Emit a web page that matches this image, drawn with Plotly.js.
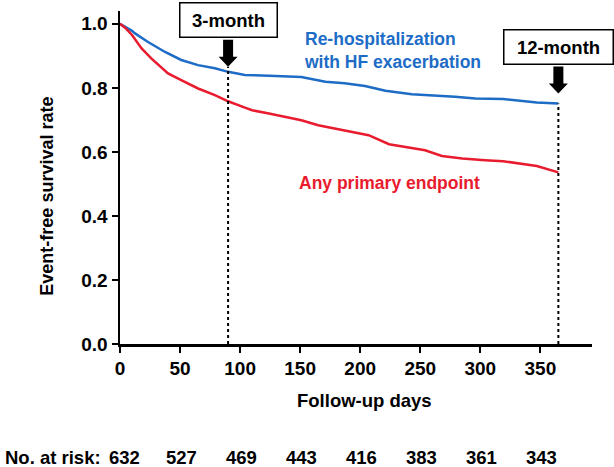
<!DOCTYPE html>
<html>
<head>
<meta charset="utf-8">
<script src="https://cdn.plot.ly/plotly-3.0.1.min.js"></script>
<style>html,body{margin:0;padding:0;background:#fff;}#chart{width:614px;height:467px;}</style>
</head>
<body>
<div id="chart"></div>
<script>
// ---- Data ----
const rehospDays = [0, 5, 10, 12.5, 23, 37.5, 51, 65, 79, 90, 104, 124, 151, 171, 187, 204, 221, 243, 262, 279, 296, 319, 347, 365];
const rehospSurv = [1.0, 0.99, 0.978, 0.970, 0.944, 0.912, 0.887, 0.871, 0.861, 0.850, 0.840, 0.838, 0.834, 0.819, 0.814, 0.806, 0.791, 0.780, 0.777, 0.772, 0.767, 0.765, 0.754, 0.751];
const anyDays = [0, 5, 10, 18, 26, 40, 51, 65, 79, 90, 104, 110, 124, 137, 151, 165, 179, 193, 207, 224, 240, 254, 268, 285, 304, 319, 347, 365];
const anySurv = [1.0, 0.985, 0.965, 0.923, 0.892, 0.845, 0.824, 0.798, 0.777, 0.758, 0.738, 0.730, 0.720, 0.709, 0.699, 0.683, 0.673, 0.663, 0.652, 0.624, 0.614, 0.605, 0.587, 0.579, 0.574, 0.571, 0.556, 0.536];
const milestoneDays = [90, 365];
const milestoneLabels = ['3-month', '12-month'];
const riskDays = [0, 50, 100, 150, 200, 250, 300, 350];
const riskCounts = [632, 527, 469, 443, 416, 383, 361, 343];
const xTicks = [0, 50, 100, 150, 200, 250, 300, 350];
const yTicks = [0, 0.2, 0.4, 0.6, 0.8, 1.0];

// ---- Style ----
const BLUE = '#1d6cc6';
const RED = '#e91b2e';
const FONT = 'Liberation Sans, Arial, sans-serif';
const W = 614, H = 467;
const M = {l: 120, r: 22, t: 11, b: 123};
const yRange = [0, 1.04];
const pxPerUnit = (H - M.t - M.b) / (yRange[1] - yRange[0]);

function valueAt(days, vals, d) {
  for (let i = 1; i < days.length; i++) {
    if (d <= days[i]) {
      const f = (d - days[i - 1]) / (days[i] - days[i - 1]);
      return vals[i - 1] + f * (vals[i] - vals[i - 1]);
    }
  }
  return vals[vals.length - 1];
}

const traces = [
  {x: rehospDays, y: rehospSurv, type: 'scatter', mode: 'lines', line: {color: BLUE, width: 2.5}, hoverinfo: 'skip'},
  {x: anyDays, y: anySurv, type: 'scatter', mode: 'lines', line: {color: RED, width: 2.5}, hoverinfo: 'skip'}
];

const tipOffsets = [5, 10];   // px gap between curve and arrow tip
const arrowLen = 27;
const shapes = [];
const annotations = [];

milestoneDays.forEach((d, i) => {
  const v = valueAt(rehospDays, rehospSurv, d);
  const off = tipOffsets[i];
  const top = i === 0 ? v + off / pxPerUnit : v;
  shapes.push({type: 'line', xref: 'x', yref: 'y', x0: d, x1: d, y0: 0, y1: top,
    line: {color: 'black', width: 2, dash: 'dot'}});
  const h = off + 10, t = off + arrowLen;
  shapes.push({type: 'path', xref: 'x', yref: 'y', xsizemode: 'pixel', ysizemode: 'pixel',
    xanchor: d, yanchor: v,
    path: `M -5,${t} L 5,${t} L 5,${h} L 9.5,${h} L 0,${off} L -9.5,${h} L -5,${h} Z`,
    fillcolor: 'black', line: {color: 'black', width: 0}});
  annotations.push({xref: 'x', yref: 'y', x: d, y: v, xanchor: 'center', yanchor: 'bottom',
    yshift: t + 2, text: '<b>' + milestoneLabels[i] + '</b>', showarrow: false,
    font: {family: FONT, size: 18.5, color: 'black'},
    bordercolor: 'black', borderwidth: 1.5, borderpad: 1, bgcolor: 'white',
    width: i === 0 ? 94 : 106, height: 31});
});

riskDays.forEach((d, i) => {
  annotations.push({xref: 'x', yref: 'paper', x: d, y: -0.340, xanchor: 'center', yanchor: 'middle',
    xshift: i === 0 ? 4 : 1,
    text: '<b>' + riskCounts[i] + '</b>', showarrow: false, font: {family: FONT, size: 18.5, color: 'black'}});
});
annotations.push({xref: 'paper', yref: 'paper', x: -0.036, y: -0.340, xanchor: 'right', yanchor: 'middle',
  text: '<b>No. at risk:</b>', showarrow: false, font: {family: FONT, size: 18.5, color: 'black'}});

annotations.push({xref: 'paper', yref: 'paper', x: 0.518, y: -0.169, xanchor: 'center', yanchor: 'middle',
  text: '<b>Follow-up days</b>', showarrow: false, font: {family: FONT, size: 18.5, color: 'black'}});
annotations.push({xref: 'paper', yref: 'paper', x: -0.155, y: 0.445, xanchor: 'center', yanchor: 'middle',
  textangle: -90, text: '<b>Event-free survival rate</b>', showarrow: false, font: {family: FONT, size: 18, color: 'black'}});

annotations.push({xref: 'paper', yref: 'paper', x: (302 - M.l) / (W - M.l - M.r), y: 0.8825, xanchor: 'left', yanchor: 'middle', align: 'left',
  text: '<b>Re-hospitalization<br>with HF exacerbation</b>', showarrow: false, font: {family: FONT, size: 17.5, color: BLUE}});
annotations.push({xref: 'paper', yref: 'paper', x: 0.570, y: 0.483, xanchor: 'center', yanchor: 'middle',
  text: '<b>Any primary endpoint</b>', showarrow: false, font: {family: FONT, size: 17.5, color: RED}});

const axisCommon = {
  showgrid: false, zeroline: false, showline: true, linecolor: 'black', linewidth: 2.5,
  ticks: 'outside', ticklen: 6, tickwidth: 2, tickcolor: 'black',
  tickfont: {family: FONT, size: 19, color: 'black', weight: 'bold'}
};

const layout = {
  width: W, height: H, margin: M, showlegend: false,
  paper_bgcolor: 'white', plot_bgcolor: 'white',
  xaxis: Object.assign({}, axisCommon, {range: [0, 393], tickvals: xTicks, ticktext: xTicks.map(String)}),
  yaxis: Object.assign({}, axisCommon, {range: yRange, tickvals: yTicks, ticktext: yTicks.map(v => v.toFixed(1))}),
  shapes: shapes, annotations: annotations
};

Plotly.newPlot('chart', traces, layout, {staticPlot: true, displayModeBar: false});
</script>
</body>
</html>
